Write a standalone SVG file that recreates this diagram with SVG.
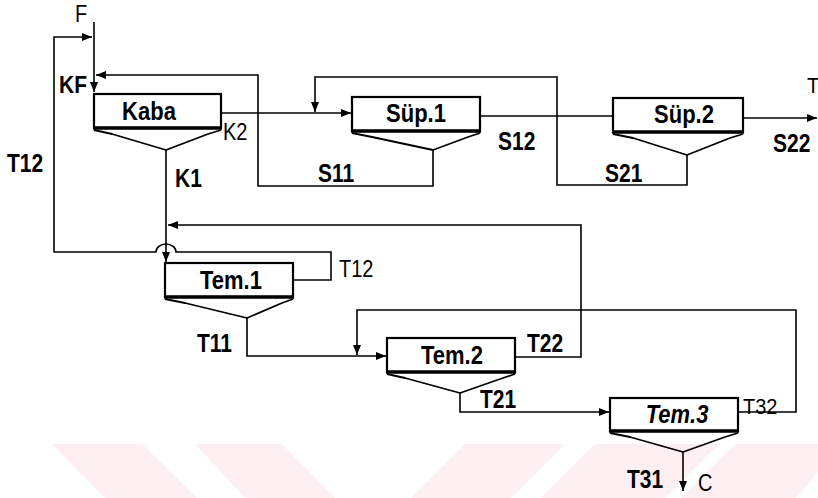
<svg xmlns="http://www.w3.org/2000/svg" width="818" height="498" viewBox="0 0 818 498">
<defs>
<marker id="arr" markerUnits="userSpaceOnUse" markerWidth="10" markerHeight="8" refX="10" refY="4" orient="auto">
<path d="M0,0 L10,4 L0,8 z" fill="#000"/>
</marker>
<style>
.wm{fill:#feeff2;stroke:none}
.ln{fill:none;stroke:#000;stroke-width:1.6}
.arw{marker-end:url(#arr)}
.box{fill:#fff;stroke:#000;stroke-width:2.2}
.bot{stroke:#000;stroke-width:3.5}
.hop{fill:none;stroke:#000;stroke-width:1.8;stroke-linejoin:round}
.lb{font-family:"Liberation Sans",Arial,sans-serif;font-size:21px;font-weight:bold;fill:#000}
.ln2{font-family:"Liberation Sans",Arial,sans-serif;font-size:20px;fill:#000}
.bl{font-family:"Liberation Sans",Arial,sans-serif;font-size:22px;font-weight:bold;fill:#000;text-anchor:middle}
</style>
</defs>
<rect width="818" height="498" fill="#fff"/>
<g id="watermark">
<polygon class="wm" points="52,444 142,444 197,498 105,498"/>
<polygon class="wm" points="195,444 282,444 335,498 245,498"/>
<polygon class="wm" points="465,444 565,444 511,498 411,498"/>
<polygon class="wm" points="595,444 719,444 665,498 541,498"/>
<polygon class="wm" points="735,444 818,444 818,472 796,498 681,498"/>
</g>
<g id="connectors">
<path class="ln arw" d="M94,22 V92"/>
<path class="ln arw" d="M221,113 H351"/>
<path class="ln arw" d="M433,150 V186 H258 V75 H96"/>
<path class="ln arw" d="M687,155 V185 H557 V77 H315 V112"/>
<path class="ln" d="M480,116 H613"/>
<path class="ln arw" d="M743,118 H817"/>
<path class="ln arw" d="M166,150 V262"/>
<path class="ln arw" d="M293,280 H331 V252 H176 A10 8 0 0 0 156,252 H54 V37 H92"/>
<path class="ln arw" d="M515,357 H581 V225 H168"/>
<path class="ln arw" d="M247,318 V356 H386"/>
<path class="ln arw" d="M738,412 H796 V310 H357 V355"/>
<path class="ln arw" d="M460,393 V412 H609"/>
<path class="ln arw" d="M683,452 V491"/>
</g>
<g id="feed">
<text class="ln2" transform="translate(75 22) scale(1 1.15)">F</text>
<text class="lb" transform="translate(59 93) scale(1 1.1)">KF</text>
<text class="lb" transform="translate(7 172) scale(1 1.2)">T12</text>
</g>
<g id="kaba">
<rect class="box" x="94" y="94" width="127" height="34"/>
<line class="bot" x1="93" y1="128" x2="222" y2="128"/>
<polyline class="hop" points="94,130 112,134 166,150 208,134 221,130"/>
<text class="bl" transform="translate(149 120) scale(1 1.2)">Kaba</text>
<text class="ln2" transform="translate(223 140) scale(1 1.15)">K2</text>
<text class="lb" transform="translate(175 187) scale(1 1.2)">K1</text>
</g>
<g id="sup1">
<rect class="box" x="352" y="97" width="128" height="34"/>
<line class="bot" x1="351" y1="131" x2="481" y2="131"/>
<polyline class="hop" points="352,133 372,137 433,150 468,137 480,133"/>
<text class="bl" transform="translate(416 122) scale(1 1.2)">Süp.1</text>
<text class="lb" transform="translate(318 182) scale(1 1.2)">S11</text>
<text class="lb" transform="translate(498 150) scale(1 1.2)">S12</text>
</g>
<g id="sup2">
<rect class="box" x="613" y="98" width="130" height="34"/>
<line class="bot" x1="612" y1="132" x2="744" y2="132"/>
<polyline class="hop" points="613,134 633,138 687,155 730,138 743,134"/>
<text class="bl" transform="translate(684 123) scale(1 1.2)">Süp.2</text>
<text class="lb" transform="translate(605 182) scale(1 1.2)">S21</text>
<text class="lb" transform="translate(773 152) scale(1 1.2)">S22</text>
<text class="ln2" transform="translate(807 93) scale(1 1.1)">T</text>
</g>
<g id="tem1">
<rect class="box" x="165" y="263" width="128" height="34"/>
<line class="bot" x1="164" y1="297" x2="294" y2="297"/>
<polyline class="hop" points="165,299 185,303 247,318 282,303 293,299"/>
<text class="bl" transform="translate(231 289) scale(1 1.2)">Tem.1</text>
<text class="ln2" transform="translate(339 277) scale(1 1.15)">T12</text>
<text class="lb" transform="translate(197 352) scale(1 1.2)">T11</text>
</g>
<g id="tem2">
<rect class="box" x="387" y="338" width="128" height="34"/>
<line class="bot" x1="386" y1="372" x2="516" y2="372"/>
<polyline class="hop" points="387,374 405,378 460,393 503,378 515,374"/>
<text class="bl" transform="translate(452 364) scale(1 1.2)">Tem.2</text>
<text class="lb" transform="translate(527 352) scale(1 1.2)">T22</text>
<text class="lb" transform="translate(480 408) scale(1 1.2)">T21</text>
</g>
<g id="tem3">
<rect class="box" x="610" y="398" width="128" height="33"/>
<line class="bot" x1="609" y1="431" x2="739" y2="431"/>
<polyline class="hop" points="610,433 630,437 683,452 725,437 738,433"/>
<text class="bl" font-style="italic" transform="translate(677 423) scale(1 1.15)">Tem.3</text>
<text class="ln2" transform="translate(743 414) scale(1 1.1)">T32</text>
<text class="lb" transform="translate(627 488) scale(1 1.2)">T31</text>
<text class="ln2" transform="translate(698 491) scale(1 1.15)">C</text>
</g>
</svg>
